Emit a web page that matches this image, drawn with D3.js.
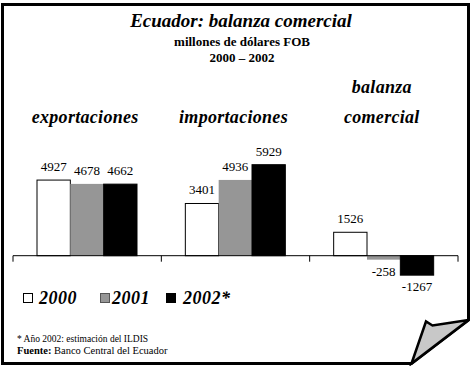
<!DOCTYPE html>
<html>
<head>
<meta charset="utf-8">
<script src="https://cdn.jsdelivr.net/npm/d3@7"></script>
<style>
  body { margin: 0; background: #fff; }
  text { font-family: "Liberation Serif", "DejaVu Serif", serif; }
</style>
</head>
<body>
<svg id="chart" width="471" height="366"></svg>
<script>
/* ---- data ---- */
const categories = ["exportaciones", "importaciones", "balanza comercial"];
const years = ["2000", "2001", "2002*"];
const v2000 = [4927, 3401, 1526];
const v2001 = [4678, 4936, -258];
const v2002 = [4662, 5929, -1267];
const yearColors = ["#ffffff", "#969696", "#000000"];

const seriesValues = [v2000, v2001, v2002];
const SERIF = "Liberation Serif, DejaVu Serif, serif";

const svg = d3.select("#chart");

// frame with page curl at bottom-right
svg.append("path")
  .attr("d", "M2.5,4.5 H468.5 V320 L411.5,363.5 H2.5 Z")
  .attr("fill", "#fff")
  .attr("stroke", "#000")
  .attr("stroke-width", 3)
  .attr("stroke-linejoin", "miter");

svg.append("path")
  .attr("d", "M411.5,363.5 L426,321.5 L432.5,325.5 L468.5,320 Z")
  .attr("fill", "#c8c8c8")
  .attr("stroke", "#000")
  .attr("stroke-width", 2.5)
  .attr("stroke-linejoin", "miter");

function txt(parent, x, yy, size, weight, italic) {
  return parent.append("text")
    .attr("x", x).attr("y", yy)
    .attr("font-family", SERIF)
    .attr("font-size", size)
    .attr("font-weight", weight)
    .attr("font-style", italic ? "italic" : "normal");
}

// titles
txt(svg, 241, 27, 19, "bold", true).attr("text-anchor", "middle").text("Ecuador: balanza comercial");
txt(svg, 242, 46, 13, "bold", false).attr("text-anchor", "middle").text("millones de dólares FOB");
txt(svg, 242, 62, 13, "bold", false).attr("text-anchor", "middle").text("2000 – 2002");

/* ---- scales ---- */
const x0 = d3.scaleBand().domain(categories).range([13, 458]);
const x1 = d3.scaleBand().domain(years).range([24, 124]);
const y = d3.scaleLinear().domain([-2000, 6000]).range([286.4, 163.6]);

// category headers
categories.forEach(c => {
  const cx = x0(c) + x0.bandwidth() / 2 - 2;
  const words = c === "balanza comercial" ? ["balanza", "comercial"] : [c];
  words.forEach((w, i) => {
    txt(svg, cx, 123 - (words.length - 1 - i) * 30, 18, "bold", true)
      .attr("text-anchor", "middle")
      .attr("letter-spacing", 0.3)
      .text(w);
  });
});

/* ---- bars ---- */
const groups = svg.append("g").selectAll("g")
  .data(categories)
  .join("g")
  .attr("transform", c => `translate(${x0(c)},0)`);

const cells = (c, ci) => years.map((yr, si) => ({ yr, si, v: seriesValues[si][ci] }));

groups.selectAll("rect")
  .data(cells)
  .join("rect")
  .attr("x", d => x1(d.yr))
  .attr("width", x1.bandwidth())
  .attr("y", d => y(Math.max(0, d.v)))
  .attr("height", d => Math.abs(y(d.v) - y(0)))
  .attr("fill", d => yearColors[d.si])
  .attr("stroke", d => d.si === 1 ? "none" : "#000")
  .attr("stroke-width", 1);

groups.selectAll("text")
  .data(cells)
  .join("text")
  .attr("x", d => x1(d.yr) + x1.bandwidth() / 2)
  .attr("y", d => d.v >= 0 ? y(d.v) - 9 : y(d.v) + 16)
  .attr("text-anchor", "middle")
  .attr("font-family", SERIF)
  .attr("font-size", 13)
  .text(d => d.v);

/* ---- axis ---- */
const axis = svg.append("g").attr("transform", `translate(0,${y(0)})`);
axis.append("line").attr("x1", 13).attr("x2", 458).attr("stroke", "#000");
const tickXs = categories.map(c => x0(c)).concat([x0.range()[1]]);
axis.selectAll("line.tick").data(tickXs).join("line")
  .attr("class", "tick")
  .attr("x1", d => d).attr("x2", d => d)
  .attr("y1", 0).attr("y2", 6)
  .attr("stroke", "#000");

/* ---- legend ---- */
const legendBoxX = [23, 100, 166];
const legendTextX = [39, 112, 183];
years.forEach((yr, i) => {
  svg.append("rect")
    .attr("x", legendBoxX[i] + 0.5).attr("y", 293.5)
    .attr("width", 9).attr("height", 9)
    .attr("fill", yearColors[i])
    .attr("stroke", i === 1 ? "#555" : "#000");
  txt(svg, legendTextX[i], 303.5, 18, "bold", true)
    .attr("letter-spacing", 0.5)
    .text(yr);
});

/* ---- footnotes ---- */
txt(svg, 17, 342, 9.5, "normal", false).text("* Año 2002: estimación del ILDIS");
const src = txt(svg, 17, 354, 10.5, "normal", false);
src.append("tspan").attr("font-weight", "bold").text("Fuente:");
src.append("tspan").text(" Banco Central del Ecuador");
</script>
</body>
</html>
